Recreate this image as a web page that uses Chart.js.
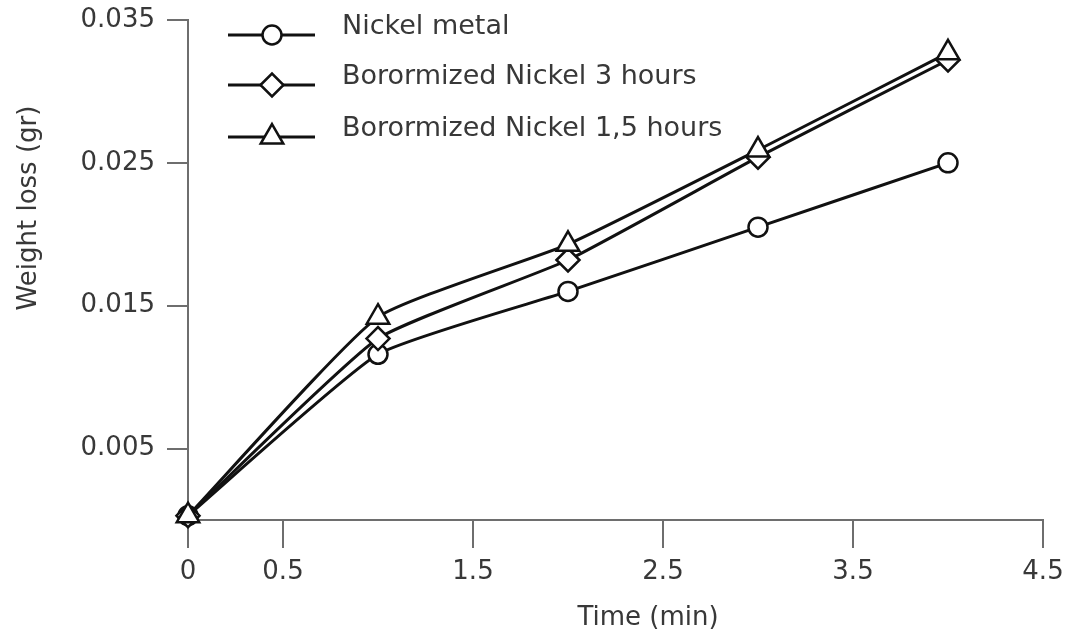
<!DOCTYPE html>
<html>
<head>
<meta charset="utf-8">
<title>Weight loss vs time</title>
<script src="https://cdn.jsdelivr.net/npm/chart.js@4/dist/chart.umd.min.js"></script>
<style>
  html, body { margin: 0; padding: 0; background: #fff; }
  #wrap { width: 1073px; height: 641px; }
</style>
</head>
<body>
<div id="wrap"><canvas id="lossChart" width="1073" height="641"></canvas></div>
<script>
// measured weight loss (gr) against time (min)
var times = [0, 1, 2, 3, 4];
var nickelMetal = [0.0003, 0.0116, 0.0160, 0.0205, 0.0250];
var boro3h = [0.0003, 0.0127, 0.0182, 0.0254, 0.0322];
var boro15h = [0.0003, 0.0142, 0.0193, 0.0259, 0.0327];

var seriesNames = ['Nickel metal', 'Borormized Nickel 3 hours', 'Borormized Nickel 1,5 hours'];
var xTicks = [0, 0.5, 1.5, 2.5, 3.5, 4.5];
var yTicks = [0.005, 0.015, 0.025, 0.035];

var FONT = 'DejaVu Sans';
var TEXT = '#383838';
var AXIS = '#6e6e6e';

function toPoints(vals) {
    return vals.map(function(v, i){ return { x: times[i], y: v }; });
}

var markers = [
    { style: 'circle', radius: 9.5 },
    { style: 'rectRot', radius: 11.5 },
    { style: 'triangle', radius: 13 }
];

function makeSet(i, vals) {
    return {
        label: seriesNames[i],
        data: toPoints(vals),
        order: 2 - i, // triangles end up on top
        borderColor: '#111',
        borderWidth: 3,
        backgroundColor: '#fff',
        pointStyle: markers[i].style,
        pointRadius: markers[i].radius,
        pointBorderWidth: 2.5,
        pointBorderColor: '#111',
        pointBackgroundColor: '#fff',
        tension: 0.15,
        clip: false,
        fill: false
    };
}

// legend and axis titles are drawn by hand so they sit where the layout wants them
var extrasPlugin = {
    id: 'extras',
    afterDraw: function(chart) {
        var ctx = chart.ctx;
        ctx.save();
        var rows = [35, 85, 137];
        chart.data.datasets.forEach(function(ds, i){
            var y = rows[i];
            ctx.strokeStyle = '#111';
            ctx.lineWidth = 3;
            ctx.beginPath();
            ctx.moveTo(228, y);
            ctx.lineTo(315, y);
            ctx.stroke();
            ctx.fillStyle = '#fff';
            ctx.lineWidth = 2.5;
            Chart.helpers.drawPoint(ctx, {
                pointStyle: ds.pointStyle,
                radius: ds.pointRadius,
                rotation: 0,
                borderWidth: 2.5
            }, 272, y);
            ctx.fillStyle = TEXT;
            ctx.font = '27px "' + FONT + '"';
            ctx.textAlign = 'left';
            ctx.textBaseline = 'alphabetic';
            ctx.fillText(ds.label, 342, y - 1);
        });

        ctx.fillStyle = TEXT;
        ctx.font = '26px "' + FONT + '"';
        ctx.textAlign = 'center';
        ctx.textBaseline = 'middle';
        ctx.fillText('Time (min)', 648, 618);

        ctx.translate(29, 208);
        ctx.rotate(-Math.PI / 2);
        ctx.fillText('Weight loss (gr)', 0, 0);
        ctx.restore();
    }
};

var ctx = document.getElementById('lossChart').getContext('2d');
var lossChart = new Chart(ctx, {
    type: 'line',
    data: {
        datasets: [makeSet(0, nickelMetal), makeSet(1, boro3h), makeSet(2, boro15h)]
    },
    options: {
        responsive: false,
        animation: false,
        layout: { padding: { left: 0, right: 30, top: 20, bottom: 0 } },
        plugins: {
            legend: { display: false },
            tooltip: { enabled: false }
        },
        scales: {
            x: {
                type: 'linear',
                min: 0,
                max: 4.5,
                afterBuildTicks: function(axis){
                    axis.ticks = xTicks.map(function(v){ return { value: v }; });
                },
                afterFit: function(axis){
                    axis.height = 121;
                    axis.paddingLeft = 0;
                    axis.paddingRight = 0;
                },
                grid: {
                    drawOnChartArea: false,
                    drawTicks: true,
                    tickLength: 28,
                    color: AXIS,
                    lineWidth: 2
                },
                border: { display: true, color: AXIS, width: 2 },
                ticks: {
                    color: TEXT,
                    padding: 9,
                    maxRotation: 0,
                    autoSkip: false,
                    font: { family: FONT, size: 26 },
                    callback: function(v){ return String(v); }
                }
            },
            y: {
                type: 'linear',
                min: 0,
                max: 0.035,
                afterBuildTicks: function(axis){
                    axis.ticks = yTicks.map(function(v){ return { value: v }; });
                },
                afterFit: function(axis){
                    axis.width = 188;
                    axis.paddingTop = 0;
                    axis.paddingBottom = 0;
                },
                grid: {
                    drawOnChartArea: false,
                    drawTicks: true,
                    tickLength: 21,
                    color: AXIS,
                    lineWidth: 2
                },
                border: { display: true, color: AXIS, width: 2 },
                ticks: {
                    color: TEXT,
                    padding: 12,
                    autoSkip: false,
                    font: { family: FONT, size: 26 },
                    callback: function(v){ return v.toFixed(3); }
                }
            }
        }
    },
    plugins: [extrasPlugin]
});
</script>
</body>
</html>
